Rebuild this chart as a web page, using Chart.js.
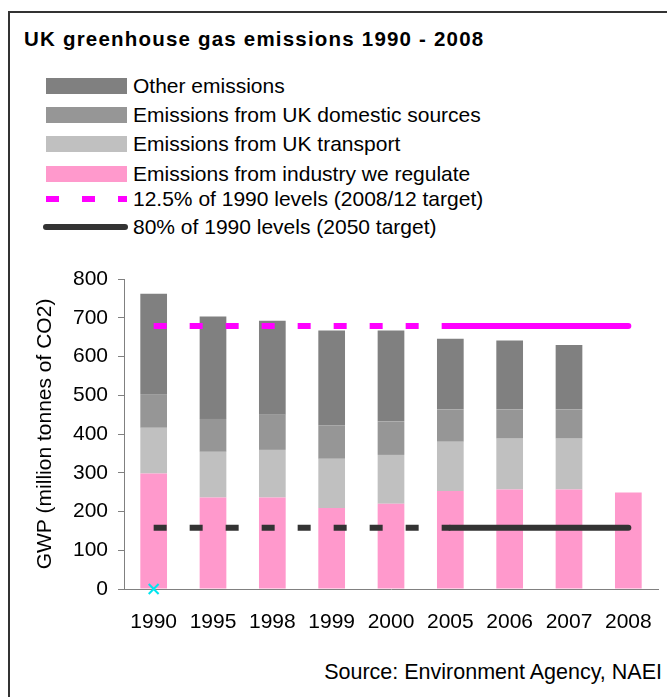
<!DOCTYPE html>
<html>
<head>
<meta charset="utf-8">
<script src="https://cdn.jsdelivr.net/npm/chart.js@4"></script>
<style>
  html, body { margin: 0; padding: 0; overflow: hidden; background: #fff; }
  body { font-family: "Liberation Sans", Arial, sans-serif; }
  #page { position: relative; width: 667px; height: 697px; overflow: hidden; }
  #frame { position: absolute; left: 8px; top: 11px; width: 657px; height: 684px;
           border-top: 2px solid #333; border-left: 2px solid #333; }
  #title { position: absolute; left: 24px; top: 27px; font-weight: bold; font-size: 20.5px;
           letter-spacing: 1.2px; white-space: nowrap; }
  .row { position: absolute; left: 0; height: 28px; width: 600px; }
  .sw { position: absolute; }
  .lbl { position: absolute; left: 133px; font-size: 21px; line-height: 24px; white-space: nowrap; }
  #source { position: absolute; right: 5px; top: 660px; font-size: 21.5px; white-space: nowrap; }
  #wrap { position: absolute; left: 0; top: 250px; width: 667px; height: 390px; }
</style>
</head>
<body>
<div id="page">
  <div id="frame"></div>
  <div id="title">UK greenhouse gas emissions 1990 - 2008</div>
  <div id="legend"></div>
  <div id="wrap"><canvas id="chart"></canvas></div>
  <div id="source">Source: Environment Agency, NAEI</div>
</div>
<script>
// Categories (years)
const years = ['1990', '1995', '1998', '1999', '2000', '2005', '2006', '2007', '2008'];

// Stacked bar segments, million tonnes CO2 equivalent
const industry = [298, 236, 236, 209, 220, 253, 257, 257, 249];
const transport = [118, 118, 123, 127, 126, 127, 131, 131, null];
const domestic = [85, 85, 91, 86, 86, 83, 75, 75, null];
const other = [261, 264, 242, 245, 235, 183, 178, 167, null];

// Target lines
const target2012 = [679, 679, 679, 679, 679, 679, 679, 679, 679];
const target2050 = [158, 158, 158, 158, 158, 158, 158, 158, 158];

// Stray marker at 1990
const marker = [0, null, null, null, null, null, null, null, null];

const yTicks = [0, 100, 200, 300, 400, 500, 600, 700, 800];

const barSeries = [
    { label: 'Other emissions', data: other, color: '#808080' },
    { label: 'Emissions from UK domestic sources', data: domestic, color: '#969696' },
    { label: 'Emissions from UK transport', data: transport, color: '#c0c0c0' },
    { label: 'Emissions from industry we regulate', data: industry, color: '#ff99cc' }
];
const lineSeries = [
    { label: '12.5% of 1990 levels (2008/12 target)', data: target2012, color: '#ff00ff' },
    { label: '80% of 1990 levels (2050 target)', data: target2050, color: '#333333' }
];

// Build the legend
function buildLegend() {
    const legend = document.getElementById('legend');
    const rowCenters = [86, 115, 144, 174, 199, 227];
    const items = barSeries.concat(lineSeries);
    items.forEach((item, i) => {
        const row = document.createElement('div');
        row.className = 'row';
        row.style.top = (rowCenters[i] - 14) + 'px';
        const sw = document.createElement('div');
        sw.className = 'sw';
        if (i < 4) {
            sw.style.cssText = `left:46px;width:81px;top:6px;height:16px;background:${item.color}`;
        } else if (i === 4) {
            sw.style.cssText = `left:46px;width:81px;top:11px;height:6px;` +
                `background:repeating-linear-gradient(to right, ${item.color} 0 13px, transparent 13px 36px)`;
        } else {
            sw.style.cssText = `left:43px;width:85px;top:11px;height:6px;border-radius:3px;background:${item.color}`;
        }
        const lbl = document.createElement('div');
        lbl.className = 'lbl';
        lbl.style.top = '2px';
        lbl.textContent = item.label;
        row.appendChild(sw);
        row.appendChild(lbl);
        legend.appendChild(row);
    });
}

function createChart() {
    const ctx = document.getElementById('chart').getContext('2d');
    const font = { family: '"Liberation Sans", Arial, sans-serif', size: 21 };

    // stacking order: industry at the bottom
    const bars = barSeries.slice().reverse().map(s => ({
        type: 'bar',
        label: s.label,
        data: s.data,
        backgroundColor: s.color,
        stack: 'emissions',
        order: 2,
        barPercentage: 0.45,
        categoryPercentage: 1.0
    }));

    const lines = lineSeries.map((s, i) => ({
        type: 'line',
        label: s.label,
        data: s.data,
        borderColor: s.color,
        borderWidth: 6,
        pointRadius: 0,
        fill: false,
        stack: 'line' + i,
        order: 1,
        segment: {
            borderDash: c => c.p0DataIndex < 5 ? [13, 23] : [],
            borderCapStyle: c => c.p0DataIndex < 5 ? 'butt' : 'round'
        }
    }));

    const mark = {
        type: 'line',
        label: 'marker',
        data: marker,
        showLine: false,
        stack: 'marker',
        order: 0,
        clip: false,
        pointStyle: 'crossRot',
        pointRadius: 7,
        borderColor: '#00e5ee',
        borderWidth: 2
    };

    new Chart(ctx, {
        type: 'bar',
        data: { labels: years, datasets: bars.concat(lines, [mark]) },
        options: {
            responsive: true,
            maintainAspectRatio: false,
            animation: false,
            layout: { padding: { top: 29, right: 5, left: 0, bottom: 0 } },
            plugins: {
                legend: { display: false },
                tooltip: { enabled: false },
                title: { display: false }
            },
            scales: {
                x: {
                    stacked: true,
                    grid: { drawOnChartArea: false, drawTicks: false },
                    border: { color: '#808080', width: 1 },
                    ticks: { font: font, color: '#000', padding: 21, maxRotation: 0 },
                    afterFit: scale => {
                        scale.height = 51;
                        scale.paddingLeft = 0;
                        scale.paddingRight = 0;
                    }
                },
                y: {
                    stacked: true,
                    min: 0,
                    max: 800,
                    afterBuildTicks: scale => { scale.ticks = yTicks.map(v => ({ value: v })); },
                    grid: { drawOnChartArea: false, tickLength: 6, color: '#808080' },
                    border: { color: '#808080', width: 1 },
                    ticks: { font: font, color: '#000', padding: 10 },
                    title: {
                        display: true,
                        text: 'GWP (million tonnes of CO2)',
                        font: font,
                        color: '#000',
                        padding: { top: 33, bottom: 0 }
                    },
                    afterFit: scale => { scale.width = 124; }
                }
            }
        }
    });
}

buildLegend();
createChart();
</script>
</body>
</html>
